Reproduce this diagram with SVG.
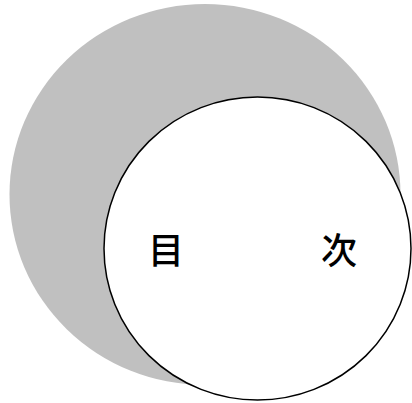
<svg xmlns="http://www.w3.org/2000/svg" width="412" height="403" viewBox="0 0 412 403">
<style>
.t{font-family:"Noto Sans CJK JP","Noto Sans CJK SC",sans-serif;font-size:36px;font-weight:500;fill:#000;text-anchor:middle}
</style>
<rect width="412" height="403" fill="#fff"/>
<g id="outer"><ellipse cx="205" cy="194.5" rx="195.5" ry="190.5" fill="#c0c0c0"/></g>
<g id="inner">
<ellipse cx="257.5" cy="248.5" rx="153.5" ry="151.5" fill="#fff" stroke="#000" stroke-width="1.5"/>
<text class="t" x="166" y="264">目</text>
<text class="t" x="339" y="264">次</text>
</g>
</svg>
